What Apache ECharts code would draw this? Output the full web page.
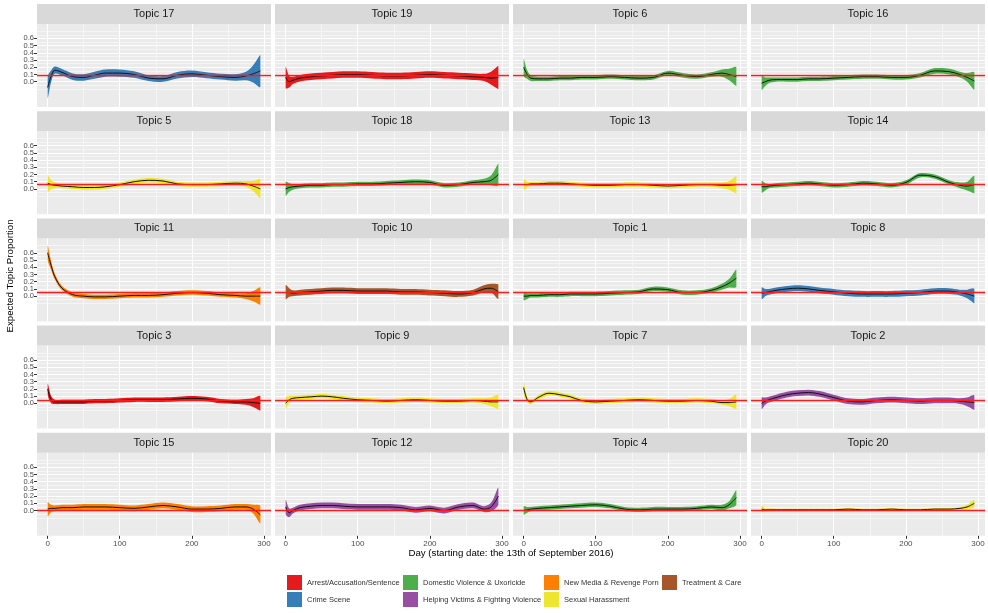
<!DOCTYPE html>
<html><head><meta charset="utf-8">
<script src="https://cdn.jsdelivr.net/npm/echarts@6/dist/echarts.min.js"></script>
<style>html,body{margin:0;padding:0;background:#fff}#c{width:988px;height:613px}</style>
</head><body><div id="c"></div><script>
// ---------- data ----------
const days = [0, 5, 10, 20, 35, 50, 65, 80, 100, 120, 140, 160, 180, 200, 220, 240, 260, 275, 285, 295];

const topic17 = [-0.08, 0.08, 0.16, 0.13, 0.07, 0.06, 0.09, 0.12, 0.12, 0.10, 0.05, 0.04, 0.09, 0.11, 0.09, 0.07, 0.06, 0.08, 0.11, 0.15];
const topic17Band = [0.15, 0.08, 0.05, 0.045, 0.045, 0.045, 0.05, 0.05, 0.05, 0.045, 0.04, 0.04, 0.045, 0.045, 0.04, 0.04, 0.045, 0.06, 0.12, 0.22];
const topic19 = [0.06, 0.00, 0.02, 0.05, 0.07, 0.08, 0.09, 0.10, 0.10, 0.09, 0.08, 0.08, 0.09, 0.10, 0.09, 0.08, 0.07, 0.06, 0.05, 0.06];
const topic19Band = [0.15, 0.08, 0.05, 0.045, 0.045, 0.045, 0.045, 0.045, 0.045, 0.045, 0.045, 0.045, 0.045, 0.045, 0.045, 0.045, 0.045, 0.05, 0.09, 0.16];
const topic6 = [0.20, 0.10, 0.05, 0.04, 0.04, 0.05, 0.05, 0.06, 0.06, 0.07, 0.06, 0.05, 0.06, 0.12, 0.09, 0.07, 0.10, 0.12, 0.10, 0.07];
const topic6Band = [0.12, 0.06, 0.04, 0.03, 0.03, 0.03, 0.03, 0.03, 0.03, 0.03, 0.03, 0.03, 0.03, 0.03, 0.03, 0.03, 0.03, 0.05, 0.08, 0.13];
const topic16 = [-0.02, 0.00, 0.02, 0.03, 0.03, 0.03, 0.04, 0.04, 0.05, 0.06, 0.07, 0.07, 0.06, 0.06, 0.09, 0.15, 0.14, 0.10, 0.06, 0.01];
const topic16Band = [0.10, 0.06, 0.04, 0.03, 0.03, 0.03, 0.03, 0.03, 0.03, 0.03, 0.03, 0.03, 0.03, 0.03, 0.03, 0.04, 0.04, 0.04, 0.06, 0.12];

const topic5 = [0.08, 0.06, 0.05, 0.04, 0.03, 0.02, 0.02, 0.03, 0.06, 0.10, 0.12, 0.11, 0.07, 0.06, 0.06, 0.07, 0.08, 0.07, 0.04, 0.00];
const topic5Band = [0.12, 0.06, 0.04, 0.03, 0.03, 0.03, 0.03, 0.03, 0.03, 0.03, 0.03, 0.03, 0.03, 0.03, 0.03, 0.03, 0.03, 0.04, 0.07, 0.13];
const topic18 = [0.00, 0.02, 0.03, 0.04, 0.05, 0.05, 0.06, 0.06, 0.07, 0.07, 0.08, 0.09, 0.10, 0.09, 0.05, 0.06, 0.09, 0.10, 0.12, 0.20];
const topic18Band = [0.10, 0.06, 0.04, 0.03, 0.03, 0.03, 0.03, 0.03, 0.03, 0.03, 0.03, 0.03, 0.03, 0.03, 0.03, 0.03, 0.03, 0.04, 0.07, 0.15];
const topic13 = [0.06, 0.06, 0.07, 0.07, 0.08, 0.08, 0.07, 0.06, 0.05, 0.05, 0.06, 0.06, 0.05, 0.04, 0.05, 0.06, 0.06, 0.05, 0.05, 0.06];
const topic13Band = [0.07, 0.04, 0.03, 0.03, 0.03, 0.03, 0.03, 0.03, 0.03, 0.03, 0.03, 0.03, 0.03, 0.03, 0.03, 0.03, 0.03, 0.04, 0.06, 0.12];
const topic14 = [0.03, 0.03, 0.04, 0.05, 0.06, 0.07, 0.08, 0.07, 0.05, 0.06, 0.08, 0.07, 0.05, 0.09, 0.19, 0.17, 0.09, 0.05, 0.04, 0.06];
const topic14Band = [0.08, 0.05, 0.03, 0.03, 0.03, 0.03, 0.03, 0.03, 0.03, 0.03, 0.03, 0.03, 0.03, 0.03, 0.03, 0.03, 0.03, 0.04, 0.06, 0.12];

const topic11 = [0.60, 0.42, 0.27, 0.11, 0.02, 0.00, -0.01, -0.01, 0.00, 0.01, 0.01, 0.02, 0.04, 0.05, 0.04, 0.02, 0.01, 0.00, 0.00, 0.00];
const topic11Band = [0.10, 0.06, 0.04, 0.03, 0.03, 0.03, 0.03, 0.03, 0.03, 0.03, 0.03, 0.03, 0.03, 0.03, 0.03, 0.03, 0.03, 0.04, 0.07, 0.12];
const topic10 = [0.05, 0.05, 0.04, 0.05, 0.06, 0.07, 0.08, 0.08, 0.07, 0.07, 0.07, 0.06, 0.06, 0.05, 0.04, 0.03, 0.05, 0.10, 0.11, 0.06];
const topic10Band = [0.10, 0.06, 0.04, 0.04, 0.04, 0.04, 0.04, 0.04, 0.04, 0.04, 0.04, 0.04, 0.04, 0.04, 0.04, 0.04, 0.04, 0.05, 0.06, 0.10];
const topic1 = [0.00, 0.00, 0.01, 0.01, 0.02, 0.02, 0.03, 0.03, 0.03, 0.04, 0.05, 0.06, 0.10, 0.09, 0.05, 0.05, 0.08, 0.13, 0.18, 0.25];
const topic1Band = [0.06, 0.04, 0.03, 0.03, 0.03, 0.03, 0.03, 0.03, 0.03, 0.03, 0.03, 0.03, 0.03, 0.03, 0.03, 0.03, 0.03, 0.04, 0.06, 0.12];
const topic8 = [0.04, 0.05, 0.06, 0.08, 0.10, 0.11, 0.10, 0.08, 0.06, 0.04, 0.03, 0.03, 0.03, 0.04, 0.05, 0.07, 0.07, 0.05, 0.03, 0.00];
const topic8Band = [0.08, 0.05, 0.04, 0.04, 0.04, 0.04, 0.04, 0.04, 0.04, 0.04, 0.04, 0.04, 0.04, 0.04, 0.04, 0.04, 0.04, 0.04, 0.06, 0.10];

const topic3 = [0.20, 0.05, 0.02, 0.02, 0.02, 0.02, 0.03, 0.03, 0.04, 0.05, 0.05, 0.05, 0.06, 0.07, 0.06, 0.03, 0.02, 0.02, 0.01, 0.00];
const topic3Band = [0.08, 0.05, 0.03, 0.03, 0.03, 0.03, 0.03, 0.03, 0.03, 0.03, 0.03, 0.03, 0.03, 0.03, 0.03, 0.03, 0.03, 0.04, 0.06, 0.10];
const topic9 = [0.00, 0.05, 0.07, 0.08, 0.09, 0.10, 0.09, 0.07, 0.05, 0.04, 0.03, 0.04, 0.05, 0.04, 0.03, 0.03, 0.04, 0.03, 0.02, 0.02];
const topic9Band = [0.08, 0.05, 0.03, 0.03, 0.03, 0.03, 0.03, 0.03, 0.03, 0.03, 0.03, 0.03, 0.03, 0.03, 0.03, 0.03, 0.03, 0.04, 0.06, 0.10];
const topic7 = [0.22, 0.05, 0.02, 0.08, 0.14, 0.12, 0.09, 0.04, 0.02, 0.03, 0.04, 0.05, 0.04, 0.03, 0.03, 0.04, 0.03, 0.01, 0.01, 0.02];
const topic7Band = [0.08, 0.04, 0.03, 0.03, 0.03, 0.03, 0.03, 0.03, 0.03, 0.03, 0.03, 0.03, 0.03, 0.03, 0.03, 0.03, 0.03, 0.03, 0.05, 0.10];
const topic2 = [0.00, 0.03, 0.05, 0.08, 0.12, 0.14, 0.15, 0.13, 0.08, 0.03, 0.02, 0.04, 0.05, 0.04, 0.03, 0.04, 0.04, 0.03, 0.02, 0.01];
const topic2Band = [0.08, 0.05, 0.04, 0.04, 0.04, 0.04, 0.04, 0.04, 0.04, 0.04, 0.04, 0.04, 0.04, 0.04, 0.04, 0.04, 0.04, 0.04, 0.06, 0.10];

const topic15 = [0.02, 0.03, 0.03, 0.04, 0.04, 0.05, 0.05, 0.05, 0.04, 0.03, 0.05, 0.07, 0.05, 0.02, 0.02, 0.03, 0.05, 0.05, 0.02, -0.06];
const topic15Band = [0.10, 0.05, 0.04, 0.04, 0.04, 0.04, 0.04, 0.04, 0.04, 0.04, 0.04, 0.04, 0.04, 0.04, 0.04, 0.04, 0.04, 0.04, 0.06, 0.12];
const topic12 = [0.05, -0.03, 0.00, 0.04, 0.06, 0.07, 0.07, 0.06, 0.05, 0.05, 0.05, 0.04, 0.01, 0.03, 0.00, 0.05, 0.07, 0.02, 0.05, 0.20];
const topic12Band = [0.10, 0.06, 0.04, 0.04, 0.04, 0.04, 0.04, 0.04, 0.04, 0.04, 0.04, 0.04, 0.04, 0.04, 0.04, 0.04, 0.04, 0.04, 0.06, 0.12];
const topic4 = [0.00, 0.01, 0.02, 0.03, 0.04, 0.05, 0.06, 0.07, 0.08, 0.06, 0.02, 0.01, 0.02, 0.02, 0.02, 0.03, 0.05, 0.04, 0.08, 0.18];
const topic4Band = [0.06, 0.04, 0.03, 0.03, 0.03, 0.03, 0.03, 0.03, 0.03, 0.03, 0.03, 0.03, 0.03, 0.03, 0.03, 0.03, 0.03, 0.04, 0.05, 0.10];
const topic20 = [0.02, 0.01, 0.01, 0.01, 0.01, 0.01, 0.01, 0.01, 0.01, 0.02, 0.01, 0.01, 0.02, 0.01, 0.01, 0.02, 0.02, 0.03, 0.05, 0.10];
const topic20Band = [0.05, 0.02, 0.02, 0.015, 0.015, 0.015, 0.015, 0.015, 0.015, 0.015, 0.015, 0.015, 0.015, 0.015, 0.015, 0.015, 0.015, 0.02, 0.03, 0.05];

const panelTopics = [17, 19, 6, 16, 5, 18, 13, 14, 11, 10, 1, 8, 3, 9, 7, 2, 15, 12, 4, 20];
const panelMeans = [topic17, topic19, topic6, topic16, topic5, topic18, topic13, topic14, topic11, topic10, topic1, topic8, topic3, topic9, topic7, topic2, topic15, topic12, topic4, topic20];
const panelBands = [topic17Band, topic19Band, topic6Band, topic16Band, topic5Band, topic18Band, topic13Band, topic14Band, topic11Band, topic10Band, topic1Band, topic8Band, topic3Band, topic9Band, topic7Band, topic2Band, topic15Band, topic12Band, topic4Band, topic20Band];
const panelCategories = ['Crime Scene', 'Arrest/Accusation/Sentence', 'Domestic Violence & Uxoricide', 'Domestic Violence & Uxoricide',
  'Sexual Harassment', 'Domestic Violence & Uxoricide', 'Sexual Harassment', 'Domestic Violence & Uxoricide',
  'New Media & Revenge Porn', 'Treatment & Care', 'Domestic Violence & Uxoricide', 'Crime Scene',
  'Arrest/Accusation/Sentence', 'Sexual Harassment', 'Sexual Harassment', 'Helping Victims & Fighting Violence',
  'New Media & Revenge Porn', 'Helping Victims & Fighting Violence', 'Domestic Violence & Uxoricide', 'Sexual Harassment'];

const categories = ['Arrest/Accusation/Sentence', 'Crime Scene', 'Domestic Violence & Uxoricide', 'Helping Victims & Fighting Violence', 'New Media & Revenge Porn', 'Sexual Harassment', 'Treatment & Care'];
const categoryColors = ['#E41A1C', '#377EB8', '#4DAF4A', '#984EA3', '#FF7F00', '#EEE530', '#A65628'];
const rowReference = [0.09, 0.07, 0.055, 0.045, 0.015];

const xTickValues = [0, 100, 200, 300];
const xGridValues = [0, 50, 100, 150, 200, 250, 300];
const yTickValues = [0, 0.1, 0.2, 0.3, 0.4, 0.5, 0.6];
const yLabelValues = [-0.35, 0, 0.1, 0.2, 0.3, 0.4, 0.5, 0.6, 0.8]; // ends carry empty labels
const yGridValues = [-0.1, -0.05, 0, 0.05, 0.1, 0.15, 0.2, 0.25, 0.3, 0.35, 0.4, 0.45, 0.5, 0.55, 0.6, 0.65, 0.7];

// ---------- layout ----------
const colLeft = [37, 275, 513, 751];
const panelW = 234, panelH = 83, stripH = 20;
const rowTop = r => 24 + 107.2 * r;
const FONT = '"Liberation Sans", Arial, Helvetica, sans-serif';
const MAJOR = '#FFFFFF', MINOR = '#F5F5F5';
const yGridColors = yGridValues.map(v => (v >= 0 && v <= 0.6 && Math.abs(v * 10 - Math.round(v * 10)) < 1e-6) ? MAJOR : MINOR);
const noLine = { show: false, onZero: false };

const grids = [], xAxes = [], yAxes = [], series = [], graphics = [];
panelTopics.forEach((topic, i) => {
  const r = Math.floor(i / 4), c = i % 4;
  const left = colLeft[c], top = rowTop(r);
  const color = categoryColors[categories.indexOf(panelCategories[i])];
  grids.push({ left, top, width: panelW, height: panelH, show: true, backgroundColor: '#EBEBEB', borderWidth: 0, containLabel: false, outerBoundsMode: 'none' });
  const xa = xAxes.length;
  xAxes.push({ type: 'value', gridIndex: i, min: -14.75, max: 309.75, position: 'bottom',
    axisLine: noLine, axisTick: { show: false, customValues: xGridValues }, axisLabel: { show: false },
    splitLine: { show: true, lineStyle: { color: [MAJOR, MINOR], width: 1 } } });
  if (r === 4) {
    xAxes.push({ type: 'value', gridIndex: i, min: -14.75, max: 309.75, position: 'bottom',
      axisLine: noLine,
      axisTick: { show: true, customValues: xTickValues, length: 3, lineStyle: { color: '#333333', width: 1 } },
      axisLabel: { show: true, customValues: xTickValues, fontSize: 8, color: '#4D4D4D', margin: 4, fontFamily: FONT,
        showMinLabel: true, showMaxLabel: true, hideOverlap: false },
      splitLine: { show: false } });
  }
  const ya = yAxes.length;
  yAxes.push({ type: 'value', gridIndex: i, min: -0.35, max: 0.8, position: 'left',
    axisLine: noLine, axisTick: { show: false, customValues: yGridValues }, axisLabel: { show: false },
    splitLine: { show: true, lineStyle: { color: yGridColors, width: 1 } } });
  if (c === 0) {
    yAxes.push({ type: 'value', gridIndex: i, min: -0.35, max: 0.8, position: 'left',
      axisLine: noLine,
      axisTick: { show: true, customValues: yTickValues, length: 3, lineStyle: { color: '#333333', width: 1 } },
      axisLabel: { show: true, customValues: yLabelValues, fontSize: 7.5, lineHeight: 5, color: '#4D4D4D', margin: 3, fontFamily: FONT,
        showMinLabel: true, showMaxLabel: true, hideOverlap: false,
        formatter: v => (v < -0.01 || v > 0.65) ? '' : Number(v).toFixed(1) },
      splitLine: { show: false } });
  }
  const mean = panelMeans[i], band = panelBands[i];
  series.push({
    type: 'custom', name: 'band' + topic, xAxisIndex: xa, yAxisIndex: ya, clip: true, z: 2, silent: true,
    data: days.map((d, k) => [d, mean[k] - band[k], mean[k] + band[k]]),
    renderItem: (params, api) => {
      if (params.dataIndex !== 0) return null;
      const upper = days.map((d, k) => api.coord([d, mean[k] + band[k]]));
      const lower = days.map((d, k) => api.coord([d, mean[k] - band[k]])).reverse();
      return { type: 'polygon', shape: { points: upper.concat(lower), smooth: 0.35, smoothConstraint: [[1e9, 1e9], [-1e9, -1e9]] },
        style: { fill: color } };
    }
  });
  series.push({
    type: 'line', name: 'mean' + topic, xAxisIndex: xa, yAxisIndex: ya, z: 3, silent: true,
    data: days.map((d, k) => [d, mean[k]]), smooth: 0.35, showSymbol: false, symbol: 'none',
    lineStyle: { color: '#111111', width: 1 },
    markLine: { silent: true, z: 5, symbol: ['none', 'none'], label: { show: false }, animation: false,
      lineStyle: { color: '#FF1A1A', width: 1.3, type: 'solid', opacity: 1 },
      emphasis: { disabled: true }, data: [{ yAxis: rowReference[r] }] }
  });
  graphics.push({ type: 'rect', shape: { x: left, y: top - stripH, width: panelW, height: stripH }, style: { fill: '#D9D9D9' }, silent: true });
  graphics.push({ type: 'text', x: left + panelW / 2, y: top - stripH / 2, silent: true,
    style: { text: 'Topic ' + topic, align: 'center', verticalAlign: 'middle', fill: '#1A1A1A', font: '11px ' + FONT } });
});

categories.forEach((cat, k) => {
  series.push({ type: 'line', name: cat, data: [], xAxisIndex: 0, yAxisIndex: 0, color: categoryColors[k], showSymbol: false });
});

graphics.push({ type: 'text', x: 511, y: 553, silent: true,
  style: { text: 'Day (starting date: the 13th of September 2016)', align: 'center', verticalAlign: 'middle', fill: '#000000', font: '9.7px ' + FONT } });
graphics.push({ type: 'text', x: 10, y: 276, rotation: Math.PI / 2, silent: true,
  style: { text: 'Expected Topic Proportion', align: 'center', verticalAlign: 'middle', fill: '#000000', font: '9.7px ' + FONT } });

const legendColumns = [[0, 1], [2, 3], [4, 5], [6]];
const legendLeft = [287, 403, 544, 662];
const legends = legendColumns.map((idx, j) => ({
  orient: 'vertical', left: legendLeft[j], top: 575, padding: 0, itemGap: 2, itemWidth: 15, itemHeight: 15,
  selectedMode: false, icon: 'rect',
  textStyle: { fontSize: 7.5, color: '#333333', fontFamily: FONT },
  data: idx.map(k => ({ name: categories[k], icon: 'rect', itemStyle: { color: categoryColors[k], borderWidth: 0 } }))
}));

const chart = echarts.init(document.getElementById('c'), null, { renderer: 'canvas' });
chart.setOption({
  animation: false,
  backgroundColor: '#FFFFFF',
  textStyle: { fontFamily: FONT },
  grid: grids, xAxis: xAxes, yAxis: yAxes, series, legend: legends, graphic: graphics
});
</script></body></html>
